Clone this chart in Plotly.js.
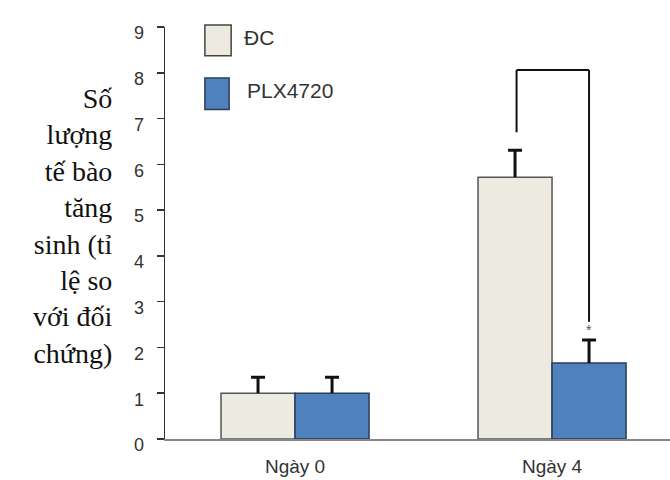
<!DOCTYPE html>
<html>
<head>
<meta charset="utf-8">
<script src="https://cdn.plot.ly/plotly-3.0.1.min.js"></script>
<style>body{margin:0;padding:0;background:#fff}#chart{width:670px;height:480px}</style>
</head>
<body>
<div id="chart"></div>
<script>
var categories = ["Ngày 0", "Ngày 4"];
var seriesNames = ["ĐC", "PLX4720"];
var dcValues = [1.0, 5.72];
var dcErrors = [0.35, 0.59];
var plxValues = [1.0, 1.66];
var plxErrors = [0.35, 0.50];
var yTickValues = [0, 1, 2, 3, 4, 5, 6, 7, 8, 9];
var yTitle = "Số<br>lượng<br>tế bào<br>tăng<br>sinh (tỉ<br>lệ so<br>với đối<br>chứng)";
var sigLabel = "*";
var bracketLeft = 6.7, bracketTop = 8.06, bracketRight = 2.56;

var tickFont = {family: "Liberation Sans, Arial, sans-serif", size: 18, color: "#333"};

function tops(v, e) { return v.map(function (d, i) { return d + e[i]; }); }
function zeros(v) { return v.map(function () { return 0; }); }

var traces = [
  {
    type: "bar", name: seriesNames[0], x: categories, y: dcValues, offsetgroup: "a",
    marker: {color: "#EDEBE0", line: {color: "#555", width: 1.5}},
    error_y: {type: "data", symmetric: false, array: dcErrors, arrayminus: zeros(dcValues),
              color: "#111", thickness: 3, width: 0},
    showlegend: false
  },
  {
    type: "bar", name: seriesNames[1], x: categories, y: plxValues, offsetgroup: "b",
    marker: {color: "#4F81BD", line: {color: "#2B3D57", width: 1.5}},
    error_y: {type: "data", symmetric: false, array: plxErrors, arrayminus: zeros(plxValues),
              color: "#111", thickness: 3, width: 0},
    showlegend: false
  },
  {
    type: "bar", name: seriesNames[0] + " cap", x: categories, y: tops(dcValues, dcErrors), offsetgroup: "a",
    marker: {color: "rgba(0,0,0,0)", line: {width: 0}},
    error_y: {type: "data", symmetric: true, array: zeros(dcValues), color: "#111", thickness: 3, width: 7},
    showlegend: false
  },
  {
    type: "bar", name: seriesNames[1] + " cap", x: categories, y: tops(plxValues, plxErrors), offsetgroup: "b",
    marker: {color: "rgba(0,0,0,0)", line: {width: 0}},
    error_y: {type: "data", symmetric: true, array: zeros(plxValues), color: "#111", thickness: 3, width: 7},
    showlegend: false
  }
];

var halfW = 0.144;
var layout = {
  width: 670, height: 480,
  margin: {l: 165, r: 0, t: 27, b: 41},
  paper_bgcolor: "#fff", plot_bgcolor: "#fff",
  barmode: "group", bargap: 0.424, bargroupgap: 0,
  xaxis: {
    type: "category", range: [-0.506, 1.459],
    showline: true, linecolor: "#888", linewidth: 1.5,
    ticks: "", showgrid: false, zeroline: false,
    tickfont: {family: "Liberation Sans, Arial, sans-serif", size: 19, color: "#333"},
    ticklabelstandoff: 10
  },
  yaxis: {
    range: [0, 9], tickvals: yTickValues,
    showline: true, linecolor: "#333", linewidth: 1.5,
    ticks: "outside", ticklen: 7, tickcolor: "#333", tickwidth: 1.5,
    showgrid: false, zeroline: false,
    tickfont: tickFont, ticklabelshift: 6, ticklabelstandoff: 9
  },
  shapes: [
    {type: "rect", xref: "paper", yref: "paper", x0: 0.079, x1: 0.131, y0: 0.93, y1: 1.005,
     fillcolor: "#EDEBE0", line: {color: "#444", width: 1.5}},
    {type: "rect", xref: "paper", yref: "paper", x0: 0.079, x1: 0.127, y0: 0.80, y1: 0.876,
     fillcolor: "#4F81BD", line: {color: "#2B3D57", width: 1.5}},
    {type: "line", xref: "x", yref: "y", x0: 1 - halfW + 0.006, x1: 1 - halfW + 0.006, y0: bracketLeft, y1: bracketTop,
     line: {color: "#111", width: 2}},
    {type: "line", xref: "x", yref: "y", x0: 1 - halfW + 0.006, x1: 1 + halfW, y0: bracketTop, y1: bracketTop,
     line: {color: "#111", width: 2}},
    {type: "line", xref: "x", yref: "y", x0: 1 + halfW, x1: 1 + halfW, y0: bracketTop, y1: bracketRight,
     line: {color: "#111", width: 2}}
  ],
  annotations: [
    {text: seriesNames[0], xref: "paper", yref: "paper", x: 0.152, y: 0.975,
     xanchor: "left", yanchor: "middle", showarrow: false,
     font: {family: "Liberation Sans, Arial, sans-serif", size: 21, color: "#333"}},
    {text: seriesNames[1], xref: "paper", yref: "paper", x: 0.158, y: 0.845,
     xanchor: "left", yanchor: "middle", showarrow: false,
     font: {family: "Liberation Sans, Arial, sans-serif", size: 21, color: "#333"}},
    {text: sigLabel, xref: "x", yref: "y", x: 1 + halfW, y: 2.38,
     xanchor: "center", yanchor: "middle", showarrow: false,
     font: {family: "Liberation Sans, Arial, sans-serif", size: 14, color: "#555"}},
    {text: yTitle, xref: "paper", yref: "paper", x: -0.1, y: 0.517,
     xanchor: "right", yanchor: "middle", align: "right", showarrow: false,
     font: {family: "Liberation Serif, Times New Roman, serif", size: 28, color: "#111"}}
  ]
};

Plotly.newPlot("chart", traces, layout, {displayModeBar: false, staticPlot: true});
</script>
</body>
</html>
